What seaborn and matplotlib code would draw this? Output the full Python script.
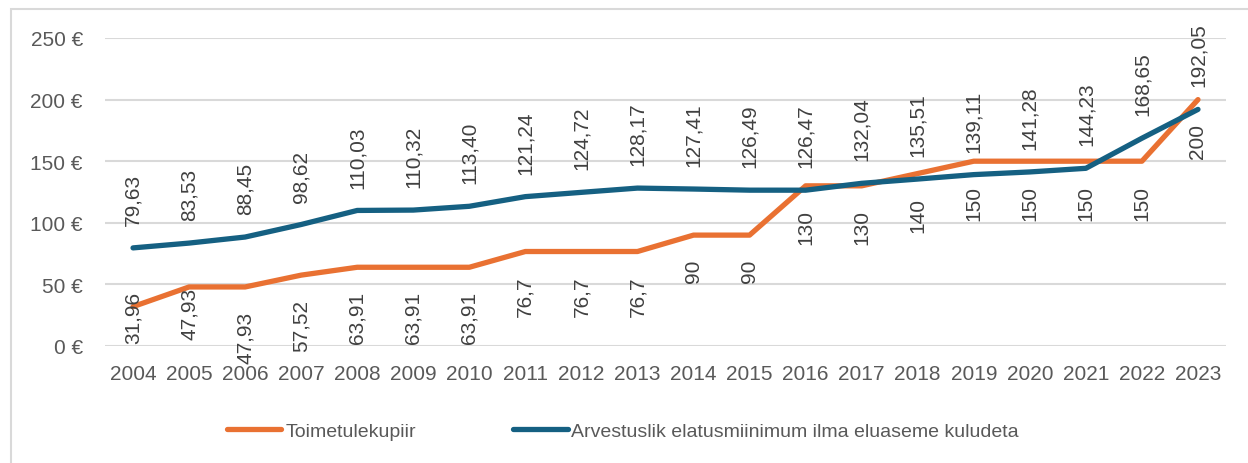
import numpy as np
import pandas as pd
import seaborn as sns
import matplotlib.pyplot as plt
from matplotlib.patches import Rectangle

# chart data
years = [str(y) for y in range(2004, 2024)]
toimetulekupiir = [31.96, 47.93, 47.93, 57.52, 63.91, 63.91, 63.91, 76.7, 76.7, 76.7,
                   90, 90, 130, 130, 140, 150, 150, 150, 150, 200]
elatusmiinimum = [79.63, 83.53, 88.45, 98.62, 110.03, 110.32, 113.40, 121.24, 124.72, 128.17,
                  127.41, 126.49, 126.47, 132.04, 135.51, 139.11, 141.28, 144.23, 168.65, 192.05]
toimetulek_labels = ['31,96', '47,93', '47,93', '57,52', '63,91', '63,91', '63,91', '76,7', '76,7', '76,7',
                     '90', '90', '130', '130', '140', '150', '150', '150', '150', '200']
elatus_labels = ['79,63', '83,53', '88,45', '98,62', '110,03', '110,32', '113,40', '121,24', '124,72', '128,17',
                 '127,41', '126,49', '126,47', '132,04', '135,51', '139,11', '141,28', '144,23', '168,65', '192,05']
series_names = ['Toimetulekupiir', 'Arvestuslik elatusmiinimum ilma eluaseme kuludeta']
y_ticks = [0, 50, 100, 150, 200, 250]

ORANGE = '#E97132'
BLUE = '#156082'
TXT = '#595959'
GRID = '#D9D9D9'

# labels that excel pushed up to stay inside the plot area
clamped = ['2004', '2005']


def buildFrame():

	"""
	long dataframe for seaborn
	"""

	df = pd.DataFrame({
		'year': years * 2,
		'x': list(range(len(years))) * 2,
		'value': toimetulekupiir + elatusmiinimum,
		'series': [series_names[0]] * len(years) + [series_names[1]] * len(years),
	})
	return df


def main():

	sns.set_theme(style='white')
	plt.rcParams['font.family'] = ['Liberation Sans', 'DejaVu Sans']

	fig = plt.figure(figsize=(12.48, 4.64), dpi=100)
	ax = fig.add_axes([105 / 1248, 1 - 347 / 464, 1121 / 1248, 308 / 464])

	# outer chart border
	fig.patches.append(Rectangle((11 / 1248, -0.05), 1.2, 1 - 10 / 464 + 0.05,
								 transform=fig.transFigure, fill=False,
								 edgecolor=GRID, linewidth=1.5, zorder=0))

	df = buildFrame()
	sns.lineplot(data=df, x='x', y='value', hue='series', hue_order=series_names,
				 palette=[ORANGE, BLUE], linewidth=3.8, ax=ax, legend=False,
				 solid_capstyle='round', solid_joinstyle='round', zorder=3)

	# data labels
	for i, yr in enumerate(years):
		ax.annotate(elatus_labels[i], (i, elatusmiinimum[i]), xytext=(0, 16.5),
					textcoords='offset points', rotation=90, ha='center', va='bottom',
					fontsize=15, color='#404040', zorder=5)
		if yr in clamped:
			ax.annotate(toimetulek_labels[i], (i, 0), xytext=(0, 2 if yr == '2004' else 5),
						textcoords='offset points', rotation=90, ha='center', va='bottom',
						fontsize=15, color='#404040', zorder=5)
		else:
			ax.annotate(toimetulek_labels[i], (i, toimetulekupiir[i]), xytext=(0, -17),
						textcoords='offset points', rotation=90, ha='center', va='top',
						fontsize=15, color='#404040', zorder=5)

	ax.set_xlim(-0.5, len(years) - 0.5)
	ax.set_ylim(0, 250)
	ax.set_xticks(range(len(years)))
	ax.set_xticklabels(years)
	ax.set_yticks(y_ticks)
	ax.set_yticklabels(['{} €'.format(v) for v in y_ticks])
	ax.tick_params(axis='both', length=0, labelsize=15, labelcolor=TXT)
	ax.tick_params(axis='y', pad=16)
	ax.tick_params(axis='x', pad=13)
	ax.set_xlabel('')
	ax.set_ylabel('')
	ax.grid(axis='y', color=GRID, linewidth=1.5)
	ax.set_axisbelow(True)
	for s in ax.spines.values():
		s.set_visible(False)

	# legend
	handles = [plt.Line2D([], [], color=c, linewidth=3.8, solid_capstyle='round') for c in [ORANGE, BLUE]]
	leg = fig.legend(handles, series_names, loc='center', bbox_to_anchor=(623 / 1248, 1 - 432 / 464),
					 ncol=2, frameon=False, fontsize=14, handlelength=2.8, handletextpad=0.2,
					 columnspacing=5.0)
	for t in leg.get_texts():
		t.set_color(TXT)

	fig.savefig('out.png', dpi=100)


if __name__ == '__main__':
	main()
